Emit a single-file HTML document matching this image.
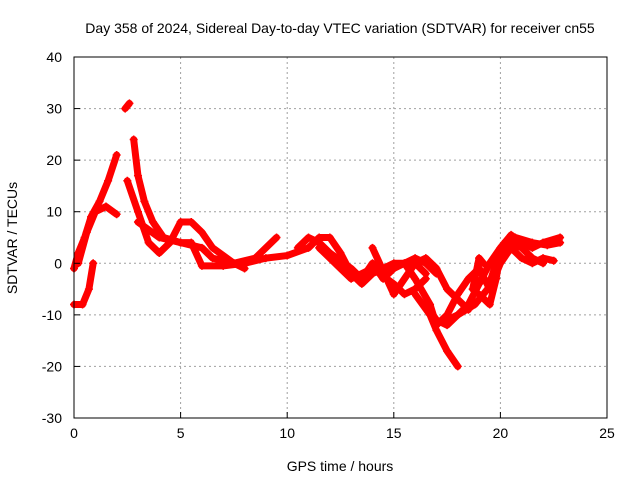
<!DOCTYPE html>
<html><head><meta charset="utf-8"><style>
body{margin:0;background:#fff}
svg{display:block;font-family:"Liberation Sans",sans-serif}
</style></head><body>
<svg id="chart" width="640" height="480" viewBox="0 0 640 480">
<rect width="640" height="480" fill="#fff"/>
<text x="340" y="33" font-size="14" text-anchor="middle">Day 358 of 2024, Sidereal Day-to-day VTEC variation (SDTVAR) for receiver cn55</text>
<g id="grid"></g>
<g id="series"></g>
<g id="axes"></g>
<text x="340" y="471" font-size="14" text-anchor="middle">GPS time / hours</text>
<text x="17" y="238" font-size="14" text-anchor="middle" transform="rotate(-90 17 238)">SDTVAR / TECUs</text>
</svg>
<script>
const xTicks=[0,5,10,15,20,25];
const yTicks=[-30,-20,-10,0,10,20,30,40];
const trace1=[[0,-1],[0.2,2],[0.5,5],[0.8,9],[1.2,12],[1.6,16],[2.0,21]];
const trace2=[[0,-8],[0.4,-8],[0.7,-5],[0.9,0]];
const trace3=[[0.2,0],[0.6,6],[1,10],[1.5,11],[2,9.5]];
const trace4=[[2.4,30],[2.6,31]];
const trace5=[[2.8,24],[3,17],[3.3,12],[3.7,8],[4.2,5],[5,4],[6,3],[6.5,1],[7.5,0],[8.5,1],[9.5,5]];
const trace6=[[2.5,16],[3,10],[3.5,4],[4,2],[4.5,4],[5,8],[5.5,8],[6,6],[6.5,3],[7.5,0],[8,-1]];
const trace7=[[3,8],[4,5],[5,4],[5.5,4],[6,-0.5],[7,-0.5],[8,0],[9,1],[10,1.5],[11,3],[11.5,5],[12,5],[12.5,2],[13,-2],[13.5,-4],[14,-2],[15,0],[16,0],[16.5,-2]];
const trace8=[[10.5,3],[11,5],[11.5,4],[12,2],[13,-1],[13.5,-3],[14,0],[14.5,-3],[15,-1],[15.5,0],[16,1],[16.5,0],[17,-2]];
const trace9=[[11.5,3],[12,1],[12.5,-1],[13,-3],[14,-1],[15,-4],[15.5,-6],[16,-5],[16.5,-3]];
const trace10=[[14,3],[15,-6],[16,0],[16.5,1],[17,-1],[17.5,-5],[18,-7],[18.5,-9]];
const trace11=[[16,-6],[16.7,-10],[17,-13],[17.5,-17],[18,-20]];
const trace12=[[16.5,-8],[17,-11],[17.5,-12],[18,-10],[18.5,-8],[19,-4],[19.5,0],[20,3],[20.5,5.5],[21,4],[21.5,3],[22,4],[22.8,5]];
const trace13=[[15.5,0],[16,-3],[16.7,-8],[17,-12],[17.5,-10],[18,-6],[18.5,-3],[19,-1],[19.5,-5],[20,0],[20.5,3],[21,1],[21.5,0],[22,1],[22.5,0.5]];
const trace14=[[17.5,-11],[18,-10],[18.8,-8],[19.4,-5],[19.8,0],[20.2,4],[20.7,5],[21.5,4],[22.2,3.5],[22.8,4]];
const trace15=[[19,-6],[19.5,-8],[19.8,-3],[20,2],[20.5,4],[21,3],[21.5,1],[22,0]];
const trace16=[[18.7,-5],[19,1],[19.2,0]];
const traces=[trace1,trace2,trace3,trace4,trace5,trace6,trace7,trace8,trace9,trace10,trace11,trace12,trace13,trace14,trace15,trace16];

const L=74,R=607,T=57,B=418;
const X=v=>L+(v-0)/(25-0)*(R-L);
const Y=v=>B-(v+30)/70*(B-T);
const NS="http://www.w3.org/2000/svg";
function mk(tag,attrs,parent){const e=document.createElementNS(NS,tag);for(const k in attrs)e.setAttribute(k,attrs[k]);parent.appendChild(e);return e;}
const grid=document.getElementById('grid'),axes=document.getElementById('axes'),ser=document.getElementById('series');
xTicks.forEach(t=>{
  if(t>0&&t<25){const g=mk('line',{x1:X(t),x2:X(t),y1:T,y2:B,stroke:'#a0a0a0','stroke-dasharray':'2,3'},grid);
  
  }
  const tk=mk('line',{x1:X(t),x2:X(t),y1:B,y2:B-6,stroke:'#000'},axes);
  
  
  const lb=mk('text',{x:X(t),y:B+20,'font-size':14,'text-anchor':'middle'},axes);
  lb.textContent=t;
  
  
});
yTicks.forEach(t=>{
  if(t>-30&&t<40){const g=mk('line',{x1:L,x2:R,y1:Y(t),y2:Y(t),stroke:'#a0a0a0','stroke-dasharray':'2,3'},grid);
  
  }
  const tk=mk('line',{x1:L,x2:L+6,y1:Y(t),y2:Y(t),stroke:'#000'},axes);
  
  
  const lb=mk('text',{x:L-12,y:Y(t)+5,'font-size':14,'text-anchor':'end'},axes);
  lb.textContent=t;
  
  
});
const fr=mk('rect',{x:L,y:T,width:R-L,height:B-T,fill:'none',stroke:'#000'},axes);


traces.forEach((tr,i)=>{
  const pl=mk('polyline',{points:tr.map(p=>X(p[0])+','+Y(p[1])).join(' '),fill:'none',stroke:'#ff0000','stroke-width':7,'stroke-linejoin':'round','stroke-linecap':'round'},ser);
  
  
  tr.forEach(p=>{
    const m=mk('path',{d:`M${X(p[0])-4},${Y(p[1])}h8M${X(p[0])},${Y(p[1])-4}v8`,stroke:'#ff0000','stroke-width':1.5},ser);
    
    
  });
});
</script>
</body></html>
